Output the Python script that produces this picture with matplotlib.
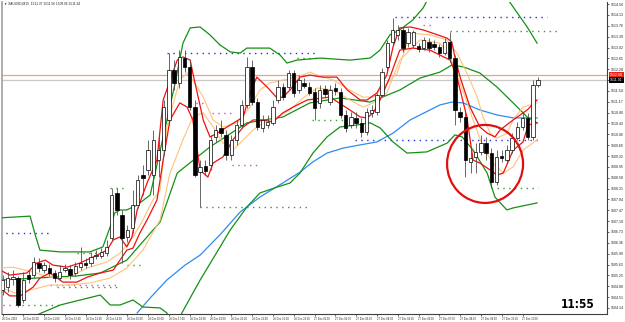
import matplotlib
matplotlib.use("Agg")
import matplotlib.pyplot as plt
from matplotlib.patches import Ellipse, Rectangle

# ---------------- data ----------------
opens = [1504.75,1504.85,1505.13,1505.16,1504.41,1505.26,1505.26,1505.67,1505.43,1505.50,
         1505.33,1505.16,1505.43,1505.47,1505.33,1505.53,1505.67,1505.67,1505.91,1505.91,
         1506.01,1506.52,1508.06,1507.31,1506.56,1506.87,1507.65,1508.67,1508.84,1508.67,
         1509.18,1509.52,1510.55,1512.25,1511.81,1512.66,1512.36,1510.99,1508.77,1508.98,
         1509.01,1509.97,1510.28,1510.04,1509.35,1509.87,1510.38,1511.06,1512.36,1511.16,
         1510.28,1510.38,1510.45,1511.23,1511.67,1511.67,1512.15,1511.57,1511.81,1511.67,
         1511.50,1511.13,1511.61,1511.16,1511.64,1511.50,1510.72,1510.38,1510.62,1510.45,
         1510.14,1510.79,1510.82,1511.40,1512.36,1513.21,1513.45,1513.62,1513.17,1513.11,
         1513.07,1513.00,1513.21,1513.14,1513.04,1512.83,1513.21,1512.66,1510.82,1510.65,
         1509.12,1509.29,1509.46,1509.76,1509.42,1508.43,1509.32,1509.18,1509.52,1509.93,
         1510.31,1510.62,1509.97,1511.74]
highs = [1505.26,1505.36,1505.43,1505.23,1505.36,1505.43,1505.88,1505.84,1505.71,1505.64,
         1505.43,1505.60,1505.64,1505.60,1505.71,1506.22,1505.84,1506.05,1506.11,1506.18,
         1506.46,1508.23,1508.23,1507.48,1506.97,1508.16,1508.67,1509.01,1509.87,1510.21,
         1509.97,1511.23,1512.83,1512.59,1512.93,1512.93,1512.59,1511.23,1509.18,1509.18,
         1510.04,1510.38,1510.55,1510.21,1510.04,1510.55,1511.23,1512.70,1512.59,1511.30,
         1510.72,1510.72,1511.23,1511.91,1511.81,1512.25,1512.25,1512.08,1511.98,1511.84,
         1511.64,1511.74,1511.74,1511.74,1511.81,1511.64,1510.89,1510.82,1510.82,1510.62,
         1510.96,1511.06,1511.47,1512.32,1513.28,1514.03,1513.79,1513.72,1513.69,1513.62,
         1513.17,1513.38,1513.34,1513.28,1513.14,1513.34,1513.55,1512.76,1510.99,1510.82,
         1509.63,1509.76,1510.04,1509.97,1509.59,1509.52,1509.52,1509.70,1510.10,1510.48,
         1510.79,1510.79,1511.91,1512.01]
lows = [1504.58,1504.68,1504.92,1504.17,1504.31,1504.99,1505.16,1505.36,1505.33,1505.23,
        1505.02,1505.09,1505.36,1505.13,1505.23,1505.43,1505.50,1505.57,1505.81,1505.84,
        1505.91,1506.46,1507.31,1505.67,1506.39,1506.69,1507.55,1507.99,1508.67,1507.99,
        1508.60,1509.35,1510.38,1511.57,1511.64,1512.18,1510.89,1508.60,1507.58,1508.67,
        1508.84,1509.80,1509.97,1509.18,1509.18,1509.70,1510.28,1510.96,1511.06,1510.21,
        1510.14,1510.28,1510.38,1511.13,1511.23,1511.57,1511.33,1511.47,1511.64,1511.40,
        1510.55,1510.96,1511.33,1511.06,1511.40,1510.62,1510.14,1510.28,1510.28,1509.97,
        1510.04,1510.65,1510.72,1511.33,1512.25,1513.11,1513.28,1512.87,1513.04,1513.00,
        1512.87,1512.93,1512.87,1512.93,1512.70,1512.76,1512.53,1510.38,1510.48,1508.60,
        1508.74,1508.74,1509.35,1509.18,1508.23,1508.33,1509.12,1509.08,1509.42,1509.87,
        1510.21,1509.87,1509.87,1511.67]
closes = [1505.09,1505.16,1505.19,1504.24,1505.09,1505.13,1505.71,1505.50,1505.60,1505.33,
          1505.16,1505.36,1505.50,1505.26,1505.57,1505.67,1505.60,1505.88,1505.94,1506.05,
          1506.22,1507.99,1507.48,1506.52,1506.80,1507.65,1508.50,1508.57,1509.52,1509.87,
          1509.52,1510.99,1512.25,1511.81,1512.70,1512.36,1510.99,1508.67,1508.95,1508.81,
          1509.87,1510.21,1510.10,1509.35,1509.87,1510.38,1511.06,1512.36,1511.16,1510.31,
          1510.55,1510.48,1510.99,1511.67,1511.33,1512.15,1511.47,1511.91,1511.71,1511.47,
          1510.96,1511.57,1511.43,1511.57,1511.54,1510.72,1510.28,1510.65,1510.45,1510.14,
          1510.82,1510.89,1511.40,1512.18,1513.17,1513.62,1513.62,1513.00,1513.55,1513.55,
          1512.97,1513.28,1513.00,1513.04,1512.83,1513.21,1512.66,1510.89,1510.65,1509.18,
          1509.25,1509.46,1509.76,1509.42,1508.43,1509.29,1509.25,1509.52,1509.93,1510.31,
          1510.62,1509.97,1511.74,1511.91]

time_labels = ["26 Dec 2019", "26 Dec 10:00", "26 Dec 11:00", "26 Dec 12:00", "26 Dec 13:00",
               "26 Dec 14:00", "26 Dec 15:00", "26 Dec 16:00", "26 Dec 17:00", "26 Dec 18:00",
               "26 Dec 19:00", "26 Dec 20:00", "26 Dec 21:00", "26 Dec 22:00", "26 Dec 23:00",
               "27 Dec 01:00", "27 Dec 02:00", "27 Dec 03:00", "27 Dec 04:00", "27 Dec 05:00",
               "27 Dec 06:00", "27 Dec 07:00", "27 Dec 08:00", "27 Dec 09:00", "27 Dec 10:00",
               "27 Dec 11:00"]
time_label_bars = [0, 4, 8, 12, 16, 20, 24, 28, 32, 36, 40, 44, 48, 52, 56, 60, 64, 68, 72,
                   76, 80, 84, 88, 92, 96, 100]

price_ticks = [1514.50, 1514.13, 1513.76, 1513.39, 1513.02, 1512.65, 1512.28, 1511.91, 1511.54,
               1511.17, 1510.80, 1510.43, 1510.06, 1509.69, 1509.32, 1508.95, 1508.58, 1508.21,
               1507.84, 1507.47, 1507.10, 1506.73, 1506.36, 1505.99, 1505.62, 1505.25, 1504.88,
               1504.51, 1504.14]

# indicator lines (bar position, price)
bb_up_x = [-0.5,5.3,6.3,7.2,11.1,16.8,19.3,20.7,21.6,22.6,23.9,25.9,28.4,30.9,33.2,34.7,36.1,38.0,
           39.9,41.8,43.8,45.7,47.0,51.4,53.4,54.7,56.6,61.1,66.8,70.7,72.6,74.5,76.4,78.9,80.9,
           82.2,96.6,98.6,100.9,102.8]
bb_up_y = [1507.21,1507.27,1506.63,1506.11,1506.05,1506.05,1506.22,1506.90,1507.38,1507.48,1507.48,
           1507.65,1507.99,1509.97,1511.81,1513.17,1513.69,1513.72,1513.45,1513.11,1512.87,1512.83,
           1513.00,1513.00,1512.76,1512.49,1512.59,1512.66,1512.59,1512.66,1512.93,1513.45,1513.62,
           1513.96,1514.37,1514.81,1514.81,1514.30,1513.72,1513.17]
bb_mid_x = [-0.5,9.7,14.3,18.8,23.9,30.3,33.6,39.9,47.0,53.9,59.1,64.9,70.7,76.4,80.3,84.1,86.4,
            88.6,91.8,95.1,98.2,100.9,102.8]
bb_mid_y = [1505.09,1505.19,1505.23,1505.33,1505.77,1507.07,1508.74,1509.63,1510.45,1510.65,
            1511.13,1511.30,1511.16,1511.57,1511.98,1512.18,1512.42,1512.36,1512.15,1511.67,
            1511.13,1510.65,1510.45]
bb_lo_x = [6.6,11.1,18.8,20.7,22.6,25.1,27.0,30.3,31.6,33.2,34.5,38.0,40.9,43.8,47.0,49.5,52.8,
           55.3,57.2,59.7,62.4,64.9,68.2,70.7,72.6,75.1,77.8,81.6,85.5,87.0,88.4,90.5,93.2,94.7,
           97.0,98.2,102.8]
bb_lo_y = [1503.90,1504.24,1504.58,1504.24,1504.24,1504.41,1504.17,1504.14,1503.97,1503.39,
           1503.97,1505.09,1505.94,1506.80,1507.58,1508.06,1508.26,1508.40,1508.74,1509.42,
           1509.97,1510.31,1510.38,1510.45,1510.28,1509.80,1509.42,1509.46,1509.76,1510.04,
           1509.97,1509.52,1508.74,1507.92,1507.48,1507.55,1507.72]
red_hi_x = [-0.5,1.4,4.7,6.6,8.2,9.7,12.4,14.9,18.2,20.1,21.3,22.6,23.9,24.9,25.9,27.8,29.7,30.9,
            33.6,34.7,36.1,36.6,38.6,39.9,41.3,43.2,46.3,47.6,48.9,50.9,52.8,53.9,55.3,57.2,59.1,
            61.6,64.3,66.3,68.8,70.1,72.0,73.9,75.1,76.4,78.4,80.9,85.5,86.4,87.0,88.0,89.9,91.8,
            93.2,94.7,95.7,98.2,100.9,102.8]
red_hi_y = [1505.43,1505.26,1505.33,1505.67,1505.77,1505.60,1505.53,1505.67,1505.94,1506.11,
            1506.46,1506.56,1506.22,1506.56,1507.48,1508.40,1509.18,1511.23,1512.59,1512.70,
            1512.59,1512.15,1510.55,1509.97,1510.10,1510.31,1510.65,1511.47,1512.01,1511.67,
            1511.30,1511.33,1511.57,1512.01,1512.08,1512.01,1512.01,1511.57,1511.23,1511.23,
            1511.47,1512.08,1513.04,1513.69,1513.72,1513.62,1513.34,1513.21,1512.70,1512.01,
            1510.99,1510.31,1510.10,1509.97,1510.21,1510.55,1510.89,1511.23]
red_lo_x = [-0.5,1.4,3.4,5.9,7.2,9.1,10.5,11.6,14.3,16.3,18.8,21.3,22.6,23.9,25.1,26.4,27.8,29.7,
            30.9,32.2,34.1,35.5,36.6,38.0,39.5,40.5,42.4,44.3,46.3,48.2,50.1,52.0,53.9,55.9,58.6,
            63.0,66.8,68.8,70.1,71.3,72.6,74.5,76.4,78.9,82.2,86.1,87.4,89.3,90.5,91.8,93.8,95.1,
            96.3,98.2,100.1,101.1,102.8]
red_lo_y = [1504.82,1504.55,1504.55,1504.85,1505.16,1505.33,1505.16,1505.02,1505.02,1505.19,
            1505.33,1505.43,1505.77,1506.11,1506.18,1506.69,1507.14,1507.82,1509.18,1510.55,
            1511.13,1510.99,1510.55,1508.84,1508.60,1509.08,1509.29,1509.87,1510.31,1510.55,
            1510.55,1510.48,1510.79,1510.99,1511.23,1511.33,1510.89,1510.65,1510.62,1510.79,
            1511.23,1512.01,1512.93,1513.00,1512.93,1512.59,1512.01,1510.65,1509.18,1509.08,
            1508.84,1508.67,1508.74,1509.52,1509.80,1510.38,1510.45]
ora_a_x = [-0.5,2.0,5.9,9.1,12.4,16.3,20.1,22.6,25.1,27.0,28.9,30.3,31.6,34.1,35.5,36.6,38.6,40.5,
           42.4,45.1,47.6,49.5,51.4,53.9,56.6,59.1,60.5,63.6,66.8,69.3,71.3,73.2,75.9,78.4,82.2,
           85.5,87.4,89.3,91.3,92.4,93.8,95.1,97.0,98.2,100.1,102.8]
ora_a_y = [1505.50,1505.53,1505.36,1505.19,1505.16,1505.50,1505.71,1506.01,1506.56,1507.14,
           1507.82,1508.16,1510.31,1511.91,1512.15,1511.91,1511.33,1510.55,1510.31,1510.45,
           1510.99,1511.57,1511.81,1511.91,1512.01,1512.18,1512.08,1511.91,1511.57,1511.33,
           1511.33,1511.67,1512.15,1513.51,1513.45,1513.28,1512.83,1512.15,1511.33,1510.65,
           1510.10,1509.93,1510.10,1510.55,1510.99,1511.13]
ora_b_x = [-0.5,2.4,5.3,9.1,13.0,16.8,20.7,23.9,27.0,30.3,32.2,34.7,36.6,38.6,40.5,42.4,44.3,
           46.3,48.2,50.1,52.8,55.3,57.8,60.5,63.6,66.8,69.3,71.3,73.9,76.4,80.3,84.1,86.1,88.0,
           90.5,92.4,94.3,96.3,98.2,100.1,102.8]
ora_b_y = [1504.85,1504.65,1504.75,1504.92,1504.92,1504.99,1505.16,1505.50,1506.11,1507.14,
           1508.74,1509.87,1510.65,1510.79,1510.31,1509.76,1509.52,1509.87,1510.21,1510.45,
           1510.65,1510.89,1511.30,1511.64,1511.57,1511.23,1510.99,1511.13,1511.47,1512.59,
           1513.28,1513.17,1512.70,1511.81,1510.55,1509.63,1509.08,1508.74,1508.95,1509.52,
           1509.87]
blue_x = [25.9,28.4,31.6,35.1,38.0,41.8,45.7,49.5,53.9,57.2,59.7,62.4,65.5,68.8,72.0,75.1,78.4,
          84.1,86.4,88.6,91.8,95.1,98.2,102.8]
blue_y = [1503.97,1504.48,1505.09,1505.60,1505.94,1506.63,1507.41,1507.92,1508.40,1508.77,
          1509.12,1509.42,1509.59,1509.70,1509.80,1510.10,1510.55,1511.06,1511.16,1511.13,
          1510.89,1510.72,1510.62,1510.62]

# dotted levels: (price, start bar, end bar, colour)
level_price = [1514.06,1513.58,1512.83,1512.66,1509.87,1508.23,1510.55,1507.58,1510.79,1509.01,
               1511.13,1504.92,1504.85,1504.24,1504.24,1506.69,1508.23,1505.60,1506.01,1513.79]
level_start = [75.5,86.1,31.6,56.6,67.8,95.1,59.5,38.0,40.3,44.1,36.1,9.1,10.5,0.0,3.8,-0.5,20.7,
               23.9,14.3,80.9]
level_end = [104.7,107.2,60.1,61.1,103.4,103.0,65.9,59.1,44.7,49.5,38.9,22.6,22.6,2.4,11.6,9.1,
             23.6,26.4,18.8,82.6]
level_color = ["#2030E0","#30A030","#2030E0","#30A030","#2030E0","#30A030","#30A030","#30A030",
               "#E040E0","#E040E0","#E040E0","#E040E0","#30A030","#E040E0","#30A030","#2030E0",
               "#30A030","#30A030","#30A030","#E040E0"]

hline_price = 1512.08
bid_price = 1511.91
circle_center = (92.8, 1509.05)
clock_text = "11:55"
title_text = "XAUUSD,M15  1511.37 1511.56 1509.96 1511.34"

# ---------------- drawing ----------------
W, H = 625, 322
fig = plt.figure(figsize=(W / 100, H / 100), dpi=100)
fig.patch.set_facecolor("white")
ax_l, ax_r, ax_t, ax_b = 2, 607, 2, 314
ax = fig.add_axes([ax_l / W, (H - ax_b) / H, (ax_r - ax_l) / W, (ax_b - ax_t) / H])
ax.set_facecolor("white")

# x mapping: pixel = 2.5 + 5.2*bar
ax.set_xlim((ax_l - 2.5) / 5.2, (ax_r - 2.5) / 5.2)
# y mapping: price = 1514.64 - 0.0341*pixel
ax.set_ylim(1514.64 - 0.0341 * ax_b, 1514.64 - 0.0341 * ax_t)

# horizontal lines
ax.axhline(hline_price, color="#F4A080", lw=0.9, zorder=1)
ax.axhline(bid_price, color="#C8C8C8", lw=0.9, zorder=1)

# dotted levels
for p, s, e, c in zip(level_price, level_start, level_end, level_color):
    ax.plot([s, e], [p, p], color=c, lw=1.0, ls=(0, (1, 3.2)), zorder=2)

# indicator lines
ax.plot(blue_x, blue_y, color="#2E8BF0", lw=0.9, zorder=3)
ax.plot(bb_up_x, bb_up_y, color="#159015", lw=0.9, zorder=3)
ax.plot(bb_mid_x, bb_mid_y, color="#159015", lw=0.9, zorder=3)
ax.plot(bb_lo_x, bb_lo_y, color="#159015", lw=0.9, zorder=3)
ax.plot(ora_a_x, ora_a_y, color="#FFC27A", lw=0.8, zorder=3)
ax.plot(ora_b_x, ora_b_y, color="#FFC27A", lw=0.8, zorder=3)
ax.plot(red_hi_x, red_hi_y, color="#F01010", lw=0.9, zorder=4)
ax.plot(red_lo_x, red_lo_y, color="#F01010", lw=0.9, zorder=4)

# candles
n = len(closes)
for i in range(n):
    o, h, l, c = opens[i], highs[i], lows[i], closes[i]
    ax.vlines(i, l, h, color="#505050", lw=0.6, zorder=5)
    bull = c >= o
    bottom = min(o, c)
    height = max(abs(c - o), 0.02)
    ax.add_patch(Rectangle((i - 0.33, bottom), 0.66, height,
                           facecolor="white" if bull else "black",
                           edgecolor="black", lw=0.5, zorder=6))

# circle annotation
ax.add_patch(Ellipse(circle_center, 76 / 5.2, 78 * 0.0341, fill=False,
                     edgecolor="#E01010", lw=1.6, zorder=7))

# axes styling
ax.spines["top"].set_visible(False)
ax.spines["left"].set_color("#A0A0A0")
ax.spines["left"].set_linewidth(1.2)
ax.spines["right"].set_color("#404040")
ax.spines["right"].set_linewidth(0.8)
ax.spines["bottom"].set_color("#404040")
ax.spines["bottom"].set_linewidth(0.8)

small_font = ["Liberation Sans", "DejaVu Sans"]

ax.yaxis.tick_right()
ax.set_yticks(price_ticks)
ax.set_yticklabels([f"{p:.2f}" for p in price_ticks], fontsize=2.5, color="#202020",
                   family=small_font)
ax.tick_params(axis="y", length=1.5, width=0.5, pad=1.0, colors="#202020")

ax.set_xticks(time_label_bars)
ax.set_xticklabels(time_labels, fontsize=1.9, color="#202020", ha="left", family=small_font)
ax.tick_params(axis="x", length=1.5, width=0.5, pad=1.0, colors="#202020")

# price boxes on axis
for price, fc in [(hline_price, "#F02010"), (bid_price, "black")]:
    ax.annotate(f"{price:.2f}", xy=(1.0, price), xycoords=("axes fraction", "data"),
                xytext=(2.2, 0), textcoords="offset points", fontsize=2.5, color="white",
                va="center", ha="left", family=small_font,
                bbox=dict(boxstyle="square,pad=0.25", fc=fc, ec="none"))

# title
fig.text(4 / W, 1 - 4 / H, "\u25bc " + title_text, fontsize=2.3, color="#202020",
         ha="left", va="center", family=small_font)

# clock
fig.text(578 / W, 1 - 304 / H, clock_text, fontsize=8.5, fontweight="bold",
         fontstretch="condensed", family=["DejaVu Sans"], color="black",
         ha="center", va="center")

fig.savefig("out.png", dpi=100, facecolor="white")
